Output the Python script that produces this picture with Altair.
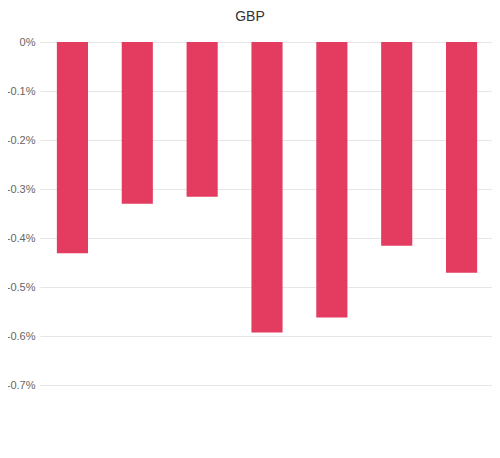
import altair as alt
import pandas as pd

categories = ["1", "2", "3", "4", "5", "6", "7"]
values = [-0.431, -0.330, -0.316, -0.593, -0.562, -0.416, -0.471]
y_ticks = [0, -0.1, -0.2, -0.3, -0.4, -0.5, -0.6, -0.7]

df = pd.DataFrame({"cat": categories, "val": values})

chart = alt.Chart(df).mark_bar(
    color="#e43b61",
    width=alt.RelativeBandSize(0.48),
).encode(
    x=alt.X("cat:N", sort=categories, axis=None,
            scale=alt.Scale(paddingInner=0, paddingOuter=0, range=[0, 454])),
    y=alt.Y("val:Q", scale=alt.Scale(domain=[-0.7, 0], nice=False, zero=True),
            axis=alt.Axis(values=y_ticks, title=None, domain=False, ticks=False,
                          labelExpr="datum.value + '%'", labelPadding=5,
                          labelFont="Liberation Sans", labelFontSize=11,
                          labelColor="#666666", gridColor="#e6e6e6",
                          labelAlign="right")),
).properties(
    width=452, height=343,
    title=alt.TitleParams("GBP", font="Liberation Sans", fontSize=14,
                          fontWeight="normal", color="#333333", offset=12,
                          anchor="middle", dx=-16),
    autosize=alt.AutoSizeParams(type="none"),
    padding={"left": 32, "top": 34, "right": 0, "bottom": 60},
).configure_view(stroke=None)

chart.save("out.html", embed_options={"renderer": "svg", "actions": False})
